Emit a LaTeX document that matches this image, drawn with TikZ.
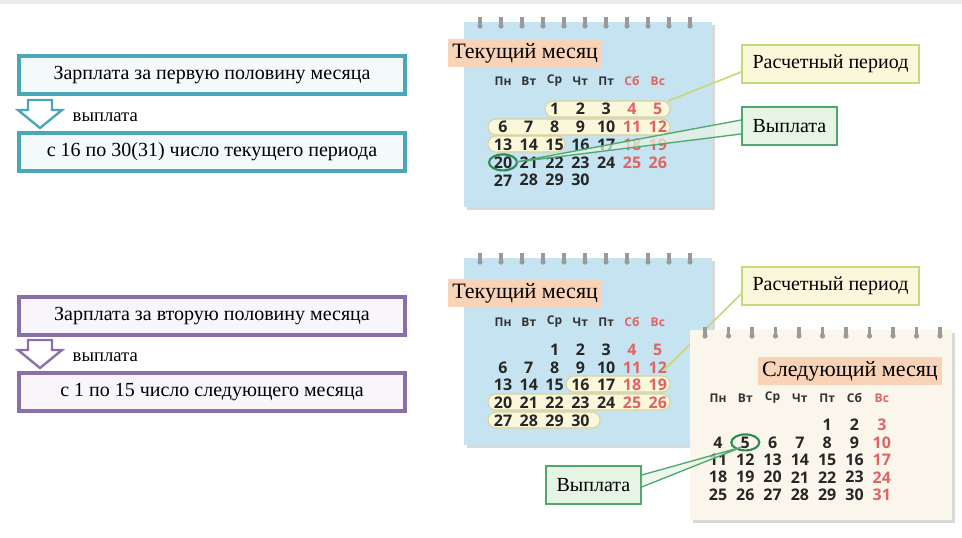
\documentclass[tikz,border=0pt]{standalone}
\usepackage{fontspec}
\setmainfont{Liberation Serif}
\newfontfamily\calfont{Open Sans}
\usetikzlibrary{positioning}
\usetikzlibrary{calc}
\definecolor{tealb}{HTML}{4BA6B8}
\definecolor{violb}{HTML}{8A6FA8}
\definecolor{calblue}{HTML}{C5E3F0}
\definecolor{calcream}{HTML}{FBF6EC}
\definecolor{salmon}{HTML}{F8D3B8}
\definecolor{wkend}{HTML}{E06464}
\definecolor{pill}{HTML}{FAF7DA}
\definecolor{pillb}{HTML}{D9D39C}
\definecolor{ringc}{HTML}{9A9A9A}
\definecolor{cbord}{HTML}{C9D97A}
\definecolor{gbord}{HTML}{4FA86E}
\definecolor{gfill}{HTML}{E6F4E4}
\definecolor{ovalc}{HTML}{2E8B57}

% draws the dates of one month: prefix, left x, top y, first weekday, days, dx, dy
\newcommand{\calgrid}[7]{%
  \foreach \d in {1,...,#5} {
    \pgfmathtruncatemacro{\p}{\d+#4-1}
    \pgfmathtruncatemacro{\c}{mod(\p,7)}
    \pgfmathtruncatemacro{\r}{div(\p,7)}
    \ifnum\c>4 \def\dc{wkend}\else\def\dc{black!85}\fi
    \ifx#1c\ifnum\c=5 \def\dc{black!85}\fi\fi
    \node[day,text=\dc] (#1-\d) at ({#2+\c*#6},{#3+\r*#7}) {\d};
  }}
\newcommand{\calhead}[4]{%
  \foreach \w [count=\i from 0] in {Пн,Вт,Ср,Чт,Пт,Сб,Вс} {
    \ifnum\i>4 \def\dc{wkend}\else\def\dc{black!80}\fi
    \ifx#1c\ifnum\i=5 \def\dc{black!80}\fi\fi
    \node[dayhead,text=\dc] at ({#2+\i*#4},#3) {\w};
  }}
\newcommand{\calrings}[3]{%
  \foreach \k in {0,...,10} {
    \fill[ringc] ({#1+\k*#3},#2) circle (2.6);
    \fill[ringc] ({#1+\k*#3-1.6},#2) rectangle ({#1+\k*#3+1.6},{#2-9});
  }}

\begin{document}
\begin{tikzpicture}[x=0.75pt,y=-0.75pt,
    infobox/.style={draw=#1,line width=3pt,fill=#1!6,minimum width=386*0.75pt,
      minimum height=38*0.75pt,font=\fontsize{15}{17}\selectfont},
    payarrow/.style={draw=#1,line width=1.8pt,fill=white},
    day/.style={font=\calfont\bfseries\fontsize{12}{14}\selectfont,inner sep=0pt},
    dayhead/.style={font=\calfont\bfseries\fontsize{9}{11}\selectfont,inner sep=0pt},
    title/.style={fill=salmon,font=\fontsize{16.5}{18}\selectfont,inner sep=3pt,
      minimum height=26*0.75pt},
    callout/.style={draw=#1,line width=1.3pt,font=\fontsize{15}{17}\selectfont,
      minimum height=38*0.75pt,inner xsep=8pt},
    datepill/.style={fill=pill,draw=pillb,rounded corners=6pt,line width=0.8pt}]
\useasboundingbox (0,0) rectangle (962,537);
\fill[black!8] (0,0) rectangle (962,4);

% left side, first half
\node[infobox=tealb] (half1) at (212,75) {Зарплата за первую половину месяца};
\node[infobox=tealb] (term1) at (212,152) {с 16 по 30(31) число текущего периода};
\draw[payarrow=tealb] (28,100) -- (52,100) -- (52,110) -- (62,110) -- (40,128)
  -- (18,110) -- (28,110) -- cycle;
\node[anchor=west,font=\fontsize{14}{16}\selectfont] (pay1) at (68,117) {выплата};

% left side, second half
\node[infobox=violb] (half2) at (212,316) {Зарплата за вторую половину месяца};
\node[infobox=violb] (term2) at (212,392) {с 1 по 15 число следующего месяца};
\draw[payarrow=violb] (28,340) -- (52,340) -- (52,350) -- (62,350) -- (40,368)
  -- (18,350) -- (28,350) -- cycle;
\node[anchor=west,font=\fontsize{14}{16}\selectfont] (pay2) at (68,357) {выплата};

% calendar one
\fill[black!15] (467,25) rectangle (715,210);
\fill[calblue] (464,22) rectangle (712,207);
\calrings{480}{26}{21}
\node[title,anchor=west] (cur1) at (448,53) {Текущий месяц};
\calhead{a}{503}{81}{25.8}
\fill[datepill] (545,101) rectangle (670,117);
\fill[datepill] (488,119) rectangle (670,135);
\fill[datepill] (488,136) rectangle (565,152);
\calgrid{a}{503}{109}{2}{30}{25.8}{17.8}
\draw[ovalc,line width=1.6pt] (a-20) ellipse (14 and 8);
\node[callout=cbord,fill=pill,anchor=west] (per1) at (741,64) {Расчетный период};
\node[callout=gbord,fill=gfill,anchor=west] (out1) at (741,126) {Выплата};
\coordinate (tip1) at (668,101);
\draw[cbord,line width=1.3pt] ($(per1.west)+(0,8)$) -- (tip1);
\coordinate (tip2) at (516,162);
\fill[gfill,opacity=0.7] ($(out1.west)+(0,-6)$) -- (tip2) -- ($(out1.west)+(0,8)$);
\draw[gbord,line width=1pt] ($(out1.west)+(0,-6)$) -- (tip2) -- ($(out1.west)+(0,8)$);

% calendar two
\fill[black!15] (467,261) rectangle (715,448);
\fill[calblue] (464,258) rectangle (712,445);
\calrings{480}{262}{21}
\node[title,anchor=west] (cur2) at (448,293) {Текущий месяц};
\calhead{b}{503}{322}{25.8}
\fill[datepill] (566,376) rectangle (670,392);
\fill[datepill] (488,394) rectangle (670,410);
\fill[datepill] (488,412) rectangle (600,428);
\calgrid{b}{503}{350}{2}{30}{25.8}{17.6}
\node[callout=cbord,fill=pill,anchor=west] (per2) at (741,286) {Расчетный период};
\coordinate (tip3) at (664,370);
\draw[cbord,line width=1.3pt] ($(per2.west)+(0,8)$) -- (tip3);

% calendar three
\fill[black!15] (693,333) rectangle (955,523);
\fill[calcream] (690,330) rectangle (952,520);
\calrings{705}{336}{23.5}
\node[title,anchor=east] (next) at (942,371) {Следующий месяц};
\calhead{c}{718}{398}{27.3}
\calgrid{c}{718}{425}{4}{31}{27.3}{17.4}
\draw[ovalc,line width=1.6pt] (c-5) ellipse (14 and 8);
\node[callout=gbord,fill=gfill,anchor=west] (out2) at (545,485) {Выплата};
\coordinate (tip4) at (742,447);
\fill[gfill,opacity=0.7] ($(out2.east)+(0,-10)$) -- (tip4) -- ($(out2.east)+(0,2)$);
\draw[gbord,line width=1pt] ($(out2.east)+(0,-10)$) -- (tip4) -- ($(out2.east)+(0,2)$);
\end{tikzpicture}
\end{document}
